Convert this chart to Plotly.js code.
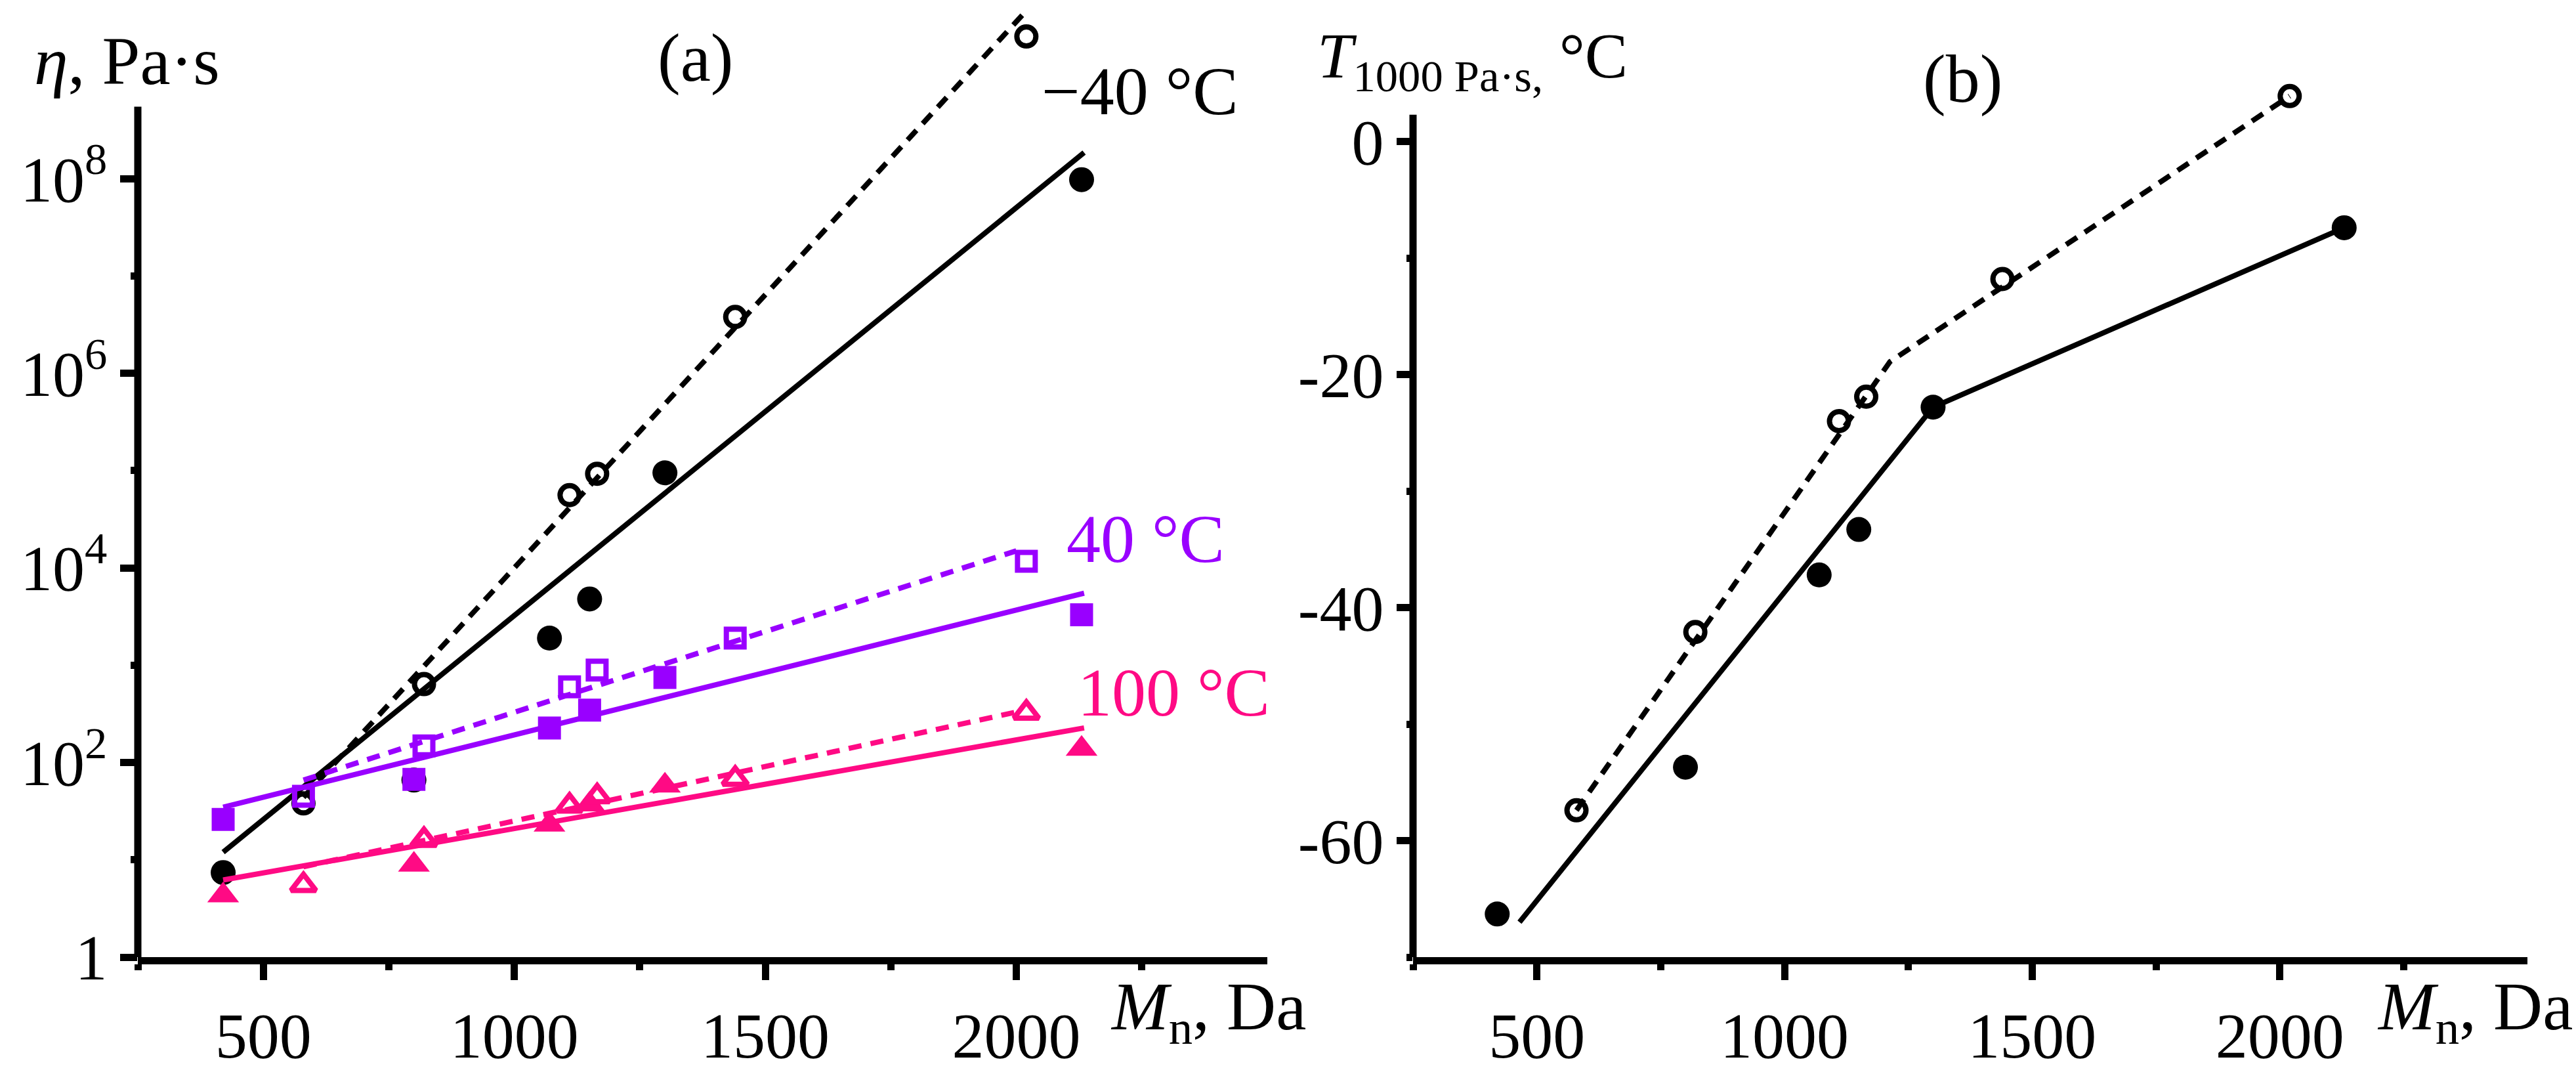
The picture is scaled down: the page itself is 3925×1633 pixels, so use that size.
<!DOCTYPE html>
<html>
<head>
<meta charset="utf-8">
<script src="https://cdn.plot.ly/plotly-3.0.1.min.js"></script>
<style>
	body { margin: 0; background: white; }
</style>
</head>
<body>
<div id="plot"></div>
<script>
// molecular weights, Da
var mn_filled = [420, 800, 1070, 1150, 1300, 2130];
var mn_open = [580, 820, 1110, 1165, 1440, 2020];

// (a) viscosity, Pa*s
var eta_m40_filled = [7.4, 66, 1900, 4800, 95000, 9.8e7];
var eta_m40_open = [38, 640, 56000, 93000, 3.8e6, 2.9e9];
var eta_40_filled = [26, 67, 226, 345, 750, 3300];
var eta_40_open = [45, 148, 600, 890, 1900, 11700];
var eta_100_filled = [4.3, 8.9, 23, 37, 58, 138];
var eta_100_open = [5.5, 16, 36, 45, 68, 325];

// (a) fitted lines, end points
var fit_solid_x = [420, 2135];
var fit_dashed_x = [580, 2015];
var fit_dashed_x2 = [580, 2000];
var fit_m40_solid = [12, 1.86e8];
var fit_m40_dashed = [44, 5.0e9];
var fit_40_solid = [34.7, 5500];
var fit_40_dashed = [66, 15000];
var fit_100_solid = [6.2, 227];
var fit_100_dashed = [8.5, 330];

// (b) temperature at 1000 Pa*s, degC
var t_filled = [-66.3, -53.7, -37.2, -33.3, -22.8, -7.4];
var t_open = [-57.4, -42.1, -24.0, -21.9, -11.8, 3.9];
var tline_solid_x = [465, 1300, 2130];
var tline_solid_y = [-67.0, -22.8, -7.4];
var tline_dashed_x = [580, 1213, 2020];
var tline_dashed_y = [-57.4, -18.9, 3.9];

// tick labels
var x_ticks = [500, 1000, 1500, 2000];
var x_minor = [250, 750, 1250, 1750, 2250];
var eta_ticks = [1, 100, 1e4, 1e6, 1e8];
var eta_ticktext = ['1', '10<sup>2</sup>', '10<sup>4</sup>', '10<sup>6</sup>', '10<sup>8</sup>'];
var eta_minor = [10, 1e3, 1e5, 1e7];
var t_ticks = [0, -20, -40, -60];
var t_ticktext = ['0', '-20', '-40', '-60'];
var t_minor = [-10, -30, -50, -70];

const black = 'black';
const purple = '#9900ff';
const pink = '#ff0a84';
const font_name = 'Liberation Serif';

function fit_line(x, y, color, dashed, xa, ya)
{
	return {
		type: 'scatter',
		mode: 'lines',
		x: x,
		y: y,
		xaxis: xa,
		yaxis: ya,
		line: {color: color, width: 8, dash: dashed ? '20px,14px' : 'solid'},
		hoverinfo: 'skip'
	};
}

function points(x, y, color, symbol, size, xa, ya)
{
	var open = symbol.indexOf('open') >= 0;
	return {
		type: 'scatter',
		mode: 'markers',
		x: x,
		y: y,
		xaxis: xa,
		yaxis: ya,
		cliponaxis: false,
		marker: {
			symbol: symbol,
			size: size,
			color: color,
			line: {color: color, width: open ? 8 : 0}
		}
	};
}

var data = [
	fit_line(fit_solid_x, fit_m40_solid, black, false, 'x', 'y'),
	fit_line(fit_dashed_x, fit_m40_dashed, black, true, 'x', 'y'),
	points(mn_filled, eta_m40_filled, black, 'circle', 38, 'x', 'y'),
	points(mn_open, eta_m40_open, black, 'circle-open', 29, 'x', 'y'),

	fit_line(fit_solid_x, fit_40_solid, purple, false, 'x', 'y'),
	fit_line(fit_dashed_x2, fit_40_dashed, purple, true, 'x', 'y'),
	points(mn_filled, eta_40_filled, purple, 'square', 35, 'x', 'y'),
	points(mn_open, eta_40_open, purple, 'square-open', 27, 'x', 'y'),

	fit_line(fit_solid_x, fit_100_solid, pink, false, 'x', 'y'),
	fit_line(fit_dashed_x2, fit_100_dashed, pink, true, 'x', 'y'),
	points(mn_filled, eta_100_filled, pink, 'triangle-up', 42, 'x', 'y'),
	points(mn_open, eta_100_open, pink, 'triangle-up-open', 33, 'x', 'y'),

	fit_line(tline_solid_x, tline_solid_y, black, false, 'x2', 'y2'),
	fit_line(tline_dashed_x, tline_dashed_y, black, true, 'x2', 'y2'),
	points(mn_filled, t_filled, black, 'circle', 38, 'x2', 'y2'),
	points(mn_open, t_open, black, 'circle-open', 29, 'x2', 'y2')
];

function x_axis(domain, anchor)
{
	return {
		domain: domain,
		anchor: anchor,
		range: [250, 2500],
		showgrid: false,
		zeroline: false,
		showline: true,
		linecolor: black,
		linewidth: 11,
		ticks: 'outside',
		ticklen: 24,
		tickwidth: 11,
		tickcolor: black,
		tickmode: 'array',
		tickvals: x_ticks,
		ticktext: x_ticks.map(String),
		minor: {tickvals: x_minor, ticks: 'outside', ticklen: 9, tickwidth: 11, tickcolor: black, showgrid: false},
		tickfont: {family: font_name, size: 98, color: black},
		fixedrange: true
	};
}

function ann(text, x, y, opts)
{
	var a = {
		text: text,
		xref: 'paper',
		yref: 'paper',
		x: x / 3925,
		y: (1458 - y) / 1448,
		xanchor: 'center',
		yanchor: 'middle',
		showarrow: false,
		font: {family: font_name, size: 104, color: black}
	};
	Object.assign(a, opts || {});
	return a;
}

var layout = {
	width: 3925,
	height: 1633,
	margin: {l: 0, r: 0, t: 10, b: 175},
	paper_bgcolor: 'white',
	plot_bgcolor: 'white',
	showlegend: false,
	font: {family: font_name, size: 100, color: black},
	xaxis: x_axis([210 / 3925, 1931 / 3925], 'y'),
	xaxis2: x_axis([2153 / 3925, 3851 / 3925], 'y2'),
	yaxis: {
		type: 'log',
		anchor: 'x',
		domain: [0, 1],
		range: [0, 9.77],
		showgrid: false,
		zeroline: false,
		showline: false,
		ticks: 'outside',
		ticklen: 26,
		tickwidth: 11,
		tickcolor: black,
		tickmode: 'array',
		tickvals: eta_ticks,
		ticktext: eta_ticktext,
		minor: {tickvals: eta_minor, ticks: 'outside', ticklen: 10, tickwidth: 11, tickcolor: black, showgrid: false},
		tickfont: {family: font_name, size: 98, color: black},
		fixedrange: true
	},
	yaxis2: {
		anchor: 'x2',
		domain: [0, 1],
		range: [-70, 11.58],
		showgrid: false,
		zeroline: false,
		showline: false,
		ticks: 'outside',
		ticklen: 24,
		tickwidth: 11,
		tickcolor: black,
		tickmode: 'array',
		tickvals: t_ticks,
		ticktext: t_ticktext,
		minor: {tickvals: t_minor, ticks: 'outside', ticklen: 9, tickwidth: 11, tickcolor: black, showgrid: false},
		tickfont: {family: font_name, size: 98, color: black},
		fixedrange: true
	},
	// y axis lines stop below the top of the plot area, as in the original
	shapes: [
		{type: 'line', xref: 'x domain', yref: 'y', x0: 0, x1: 0, y0: 1, y1: 5.5e8, line: {color: black, width: 11}},
		{type: 'line', xref: 'x2 domain', yref: 'y2', x0: 0, x1: 0, y0: -70, y1: 2.3, line: {color: black, width: 11}}
	],
	annotations: [
		ann('<i>η</i>, Pa·s', 50, 92, {xanchor: 'left'}),
		ann('(a)', 1059, 88),
		ann('−40 °C', 1737, 138),
		ann('40 °C', 1745, 820, {font: {family: font_name, size: 104, color: purple}}),
		ann('100 °C', 1788, 1054, {font: {family: font_name, size: 104, color: pink}}),
		ann('<i>M</i><sub>n</sub>, Da', 1690, 1540, {xanchor: 'left'}),
		ann('<i>T</i><sub>1000 Pa·s,</sub> °C', 2005, 92, {xanchor: 'left', font: {family: font_name, size: 98, color: black}}),
		ann('(b)', 2990, 120),
		ann('<i>M</i><sub>n</sub>, Da', 3620, 1540, {xanchor: 'left'})
	]
};

Plotly.newPlot('plot', data, layout, {staticPlot: true});
</script>
</body>
</html>
